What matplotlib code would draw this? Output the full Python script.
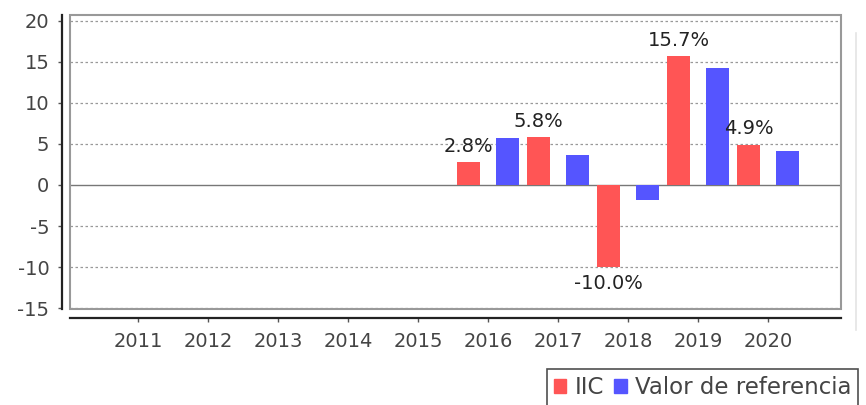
import numpy as np
import matplotlib
matplotlib.use('Agg')
import matplotlib.pyplot as plt
from matplotlib.patches import Rectangle, Patch
from matplotlib.lines import Line2D

# data
years = ['2011', '2012', '2013', '2014', '2015', '2016', '2017', '2018', '2019', '2020']
iic = [np.nan, np.nan, np.nan, np.nan, np.nan, 2.8, 5.8, -10.0, 15.7, 4.9]
ref = [np.nan, np.nan, np.nan, np.nan, np.nan, 5.7, 3.6, -1.8, 14.3, 4.2]
y_ticks = [-15, -10, -5, 0, 5, 10, 15, 20]

RED = '#FF5555'
BLUE = '#5555FF'
TXT = '#444444'

plt.rcParams['font.family'] = ['DejaVu Sans']
plt.rcParams['axes.unicode_minus'] = False

fig = plt.figure(figsize=(8.66, 4.05), dpi=100)
ax = fig.add_axes([70/866, 1 - 309/405, 771/866, 294/405])

x = np.arange(len(years))
off = 0.279
w = 0.33
ax.bar(x - off, iic, width=w, color=RED, zorder=3)
ax.bar(x + off, ref, width=w, color=BLUE, zorder=3)

# value labels on IIC bars
for xi, v in zip(x, iic):
    if np.isnan(v):
        continue
    dy = 11.5 if v >= 0 else -11.5
    ax.annotate(f'{v:.1f}%', (xi - off, v), xytext=(0, dy), textcoords='offset points',
                ha='center', va='center', fontsize=14, color='#222222', zorder=4)

ax.set_xlim(-68/70, 703/70)
ax.set_ylim(-15.1, 20.7)
ax.set_xticks(x)
ax.set_xticklabels(years)
ax.set_yticks(y_ticks)

# grid
for t in y_ticks:
    if t == 0:
        ax.axhline(0, color='#777777', lw=1.0, zorder=2)
    else:
        ax.axhline(t, color='#999999', lw=0.9, ls=(0, (2, 2)), zorder=1)

# axis lines offset from the plot frame
for s in ['top', 'right']:
    ax.spines[s].set_visible(False)
ax.spines['left'].set_position(('outward', 5.8))
ax.spines['bottom'].set_position(('outward', 6.5))
ax.spines['left'].set_color('#222222')
ax.spines['bottom'].set_color('#222222')
ax.spines['left'].set_linewidth(1.6)
ax.spines['bottom'].set_linewidth(1.6)
ax.add_patch(Rectangle((0, 0), 1, 1, transform=ax.transAxes, fill=False,
                       edgecolor='#999999', lw=1.5, zorder=5, clip_on=False))

ax.tick_params(axis='both', colors='#555555', labelcolor=TXT, labelsize=14, length=3, width=1)
ax.tick_params(axis='y', pad=6)
ax.tick_params(axis='x', pad=7)

# faint edge of a neighbouring panel on the right
fig.add_artist(Line2D([856/866, 856/866], [1 - 330/405, 1 - 33/405],
                      transform=fig.transFigure, color='#e4e4e4', lw=1.2))

# legend at the bottom right, clipped by the figure edge
handles = [Patch(color=RED, label='IIC'), Patch(color=BLUE, label='Valor de referencia')]
leg = fig.legend(handles=handles, loc='upper left', bbox_to_anchor=(547/866, 1 - 369/405),
                 ncol=2, fontsize=16.5, frameon=True, fancybox=False, handlelength=0.55,
                 handleheight=0.55, handletextpad=0.35, columnspacing=0.45, borderpad=0.3,
                 borderaxespad=0)
leg.get_frame().set_edgecolor('#222222')
leg.get_frame().set_linewidth(1.2)
for t in leg.get_texts():
    t.set_color(TXT)

fig.savefig('out.png', dpi=100)
